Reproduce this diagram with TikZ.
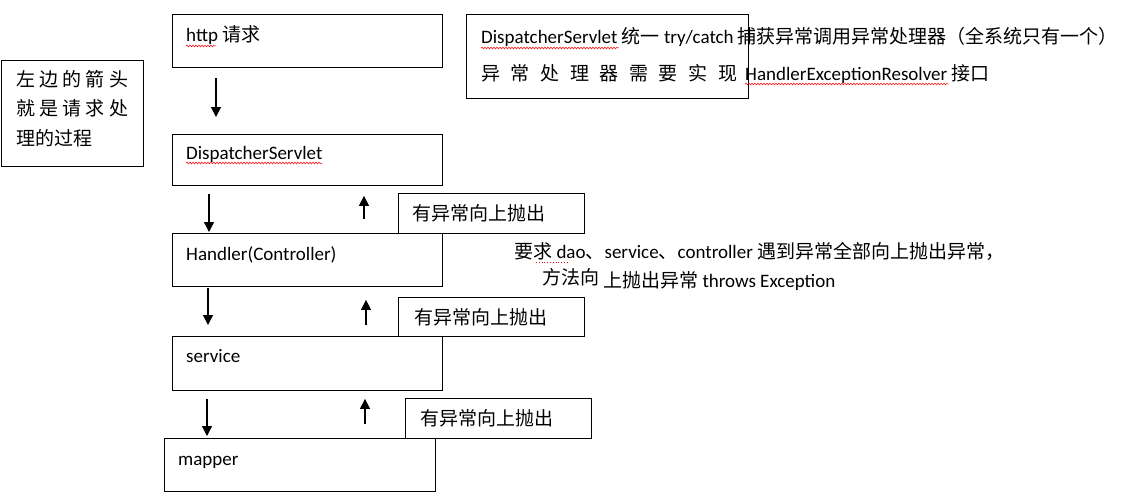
\documentclass[tikz,border=0pt]{standalone}
\usepackage{fontspec}
\setmainfont{Carlito}
\newfontfamily\cjk{Noto Sans CJK SC}
\usetikzlibrary{arrows.meta,decorations.pathmorphing}
\begin{document}
\begin{tikzpicture}[x=1pt,y=-1pt,
  box/.style={draw, line width=0.9pt, anchor=north west, inner sep=0pt},
  txt/.style={anchor=base west, inner sep=0pt, font=\fontsize{19}{22}\selectfont},
  arr/.style={line width=1.3pt, -{Triangle[length=10pt,width=10pt]}},
  squig/.style={draw=red, line width=0.5pt, decorate, decoration={snake, amplitude=0.9pt, segment length=3pt}}]
\useasboundingbox (0,0) rectangle (1145,503);
\fill[white] (0,0) rectangle (1145,503);
% main column boxes
\node[box, minimum width=270pt, minimum height=53pt] (http) at (172,14) {};
\node[box, minimum width=270pt, minimum height=51pt] (ds) at (172,134) {};
\node[box, minimum width=270pt, minimum height=53pt] (hd) at (172,233) {};
\node[box, minimum width=270pt, minimum height=54pt] (svc) at (172,336) {};
\node[box, minimum width=271pt, minimum height=53pt] (mp) at (164,438) {};
% exception boxes
\node[box, minimum width=186pt, minimum height=40pt] (ex1) at (398,193) {};
\node[box, minimum width=186pt, minimum height=39pt] (ex2) at (398,297) {};
\node[box, minimum width=186pt, minimum height=40pt] (ex3) at (405,398) {};
% note boxes
\node[box, minimum width=142pt, minimum height=106pt] (left) at (1,60) {};
\node[box, minimum width=282pt, minimum height=84pt] (note) at (466,14) {};
% texts
\node[txt] (thttp) at (186,42) {http {\cjk 请求}};
\node[txt] (tds) at (186,159) {DispatcherServlet};
\node[txt] (thd) at (186,260) {Handler(Controller)};
\node[txt] (tsvc) at (186,362) {service};
\node[txt] (tmp) at (178,465) {mapper};
\node[txt] (tex1) at (412,220) {\cjk 有异常向上抛出};
\node[txt] (tex2) at (414,324) {\cjk 有异常向上抛出};
\node[txt] (tex3) at (420,425) {\cjk 有异常向上抛出};
\node[txt] (tl1) at (16,86) {\makebox[112pt][s]{\cjk 左\hfill 边\hfill 的\hfill 箭\hfill 头}};
\node[txt] (tl2) at (16,115) {\makebox[112pt][s]{\cjk 就\hfill 是\hfill 请\hfill 求\hfill 处}};
\node[txt] (tl3) at (16,145) {\cjk 理的过程};
\node[txt] (tn1) at (481,44) {DispatcherServlet {\cjk 统一} try/catch {\cjk 捕获异常调用异常处理器（全系统只有一个）}};
\node[txt] (tn2) at (481,80) {\makebox[256pt][s]{\cjk 异\hfill 常\hfill 处\hfill 理\hfill 器\hfill 需\hfill 要\hfill 实\hfill 现}};
\node[txt] (tn3) at (745,80) {HandlerExceptionResolver {\cjk 接口}};
\node[txt] (tm1) at (514,258) {{\cjk 要求} dao{\cjk 、}service{\cjk 、}controller {\cjk 遇到异常全部向上抛出异常，}};
\node[txt] (tm2) at (542,284) {\cjk 方法向};
\node[txt] (tm3) at (603,287) {{\cjk 上抛出异常} throws Exception};
% spell-check underlines
\draw[squig] ([yshift=-4pt]thttp.base west) -- ++(30,0);
\draw[squig] ([yshift=-4pt]tds.base west) -- ([yshift=-4pt]tds.base east);
\draw[squig] ([yshift=-4pt]tn1.base west) -- ++(138,0);
\draw[squig] ([yshift=-4pt]tn3.base west) -- ++(203,0);
\draw[red, line width=0.8pt, dotted] ([xshift=22pt,yshift=-4pt]tm1.base west) -- ++(33,0);
% down arrows
\draw[arr, shorten <=10pt, shorten >=17pt] ([xshift=44pt]http.south west) -- ([xshift=44pt]http.south west |- ds.north);
\draw[arr, shorten <=8pt, shorten >=1pt] ([xshift=37pt]ds.south west) -- ([xshift=37pt]ds.south west |- hd.north);
\draw[arr, shorten <=1pt, shorten >=11pt] ([xshift=36pt]hd.south west) -- ([xshift=36pt]hd.south west |- svc.north);
\draw[arr, shorten <=8pt, shorten >=2pt] ([xshift=35pt]svc.south west) -- ([xshift=35pt]svc.south west |- mp.north);
% up arrows
\draw[arr, shorten <=14pt, shorten >=10pt] ([xshift=192pt]hd.north west) -- ([xshift=192pt]hd.north west |- ds.south);
\draw[arr, shorten <=11pt, shorten >=13pt] ([xshift=194pt]svc.north west) -- ([xshift=194pt]svc.north west |- hd.south);
\draw[arr, shorten <=14pt, shorten >=8pt] ([xshift=193pt]svc.south west |- mp.north) -- ([xshift=193pt]svc.south west);
\end{tikzpicture}
\end{document}
